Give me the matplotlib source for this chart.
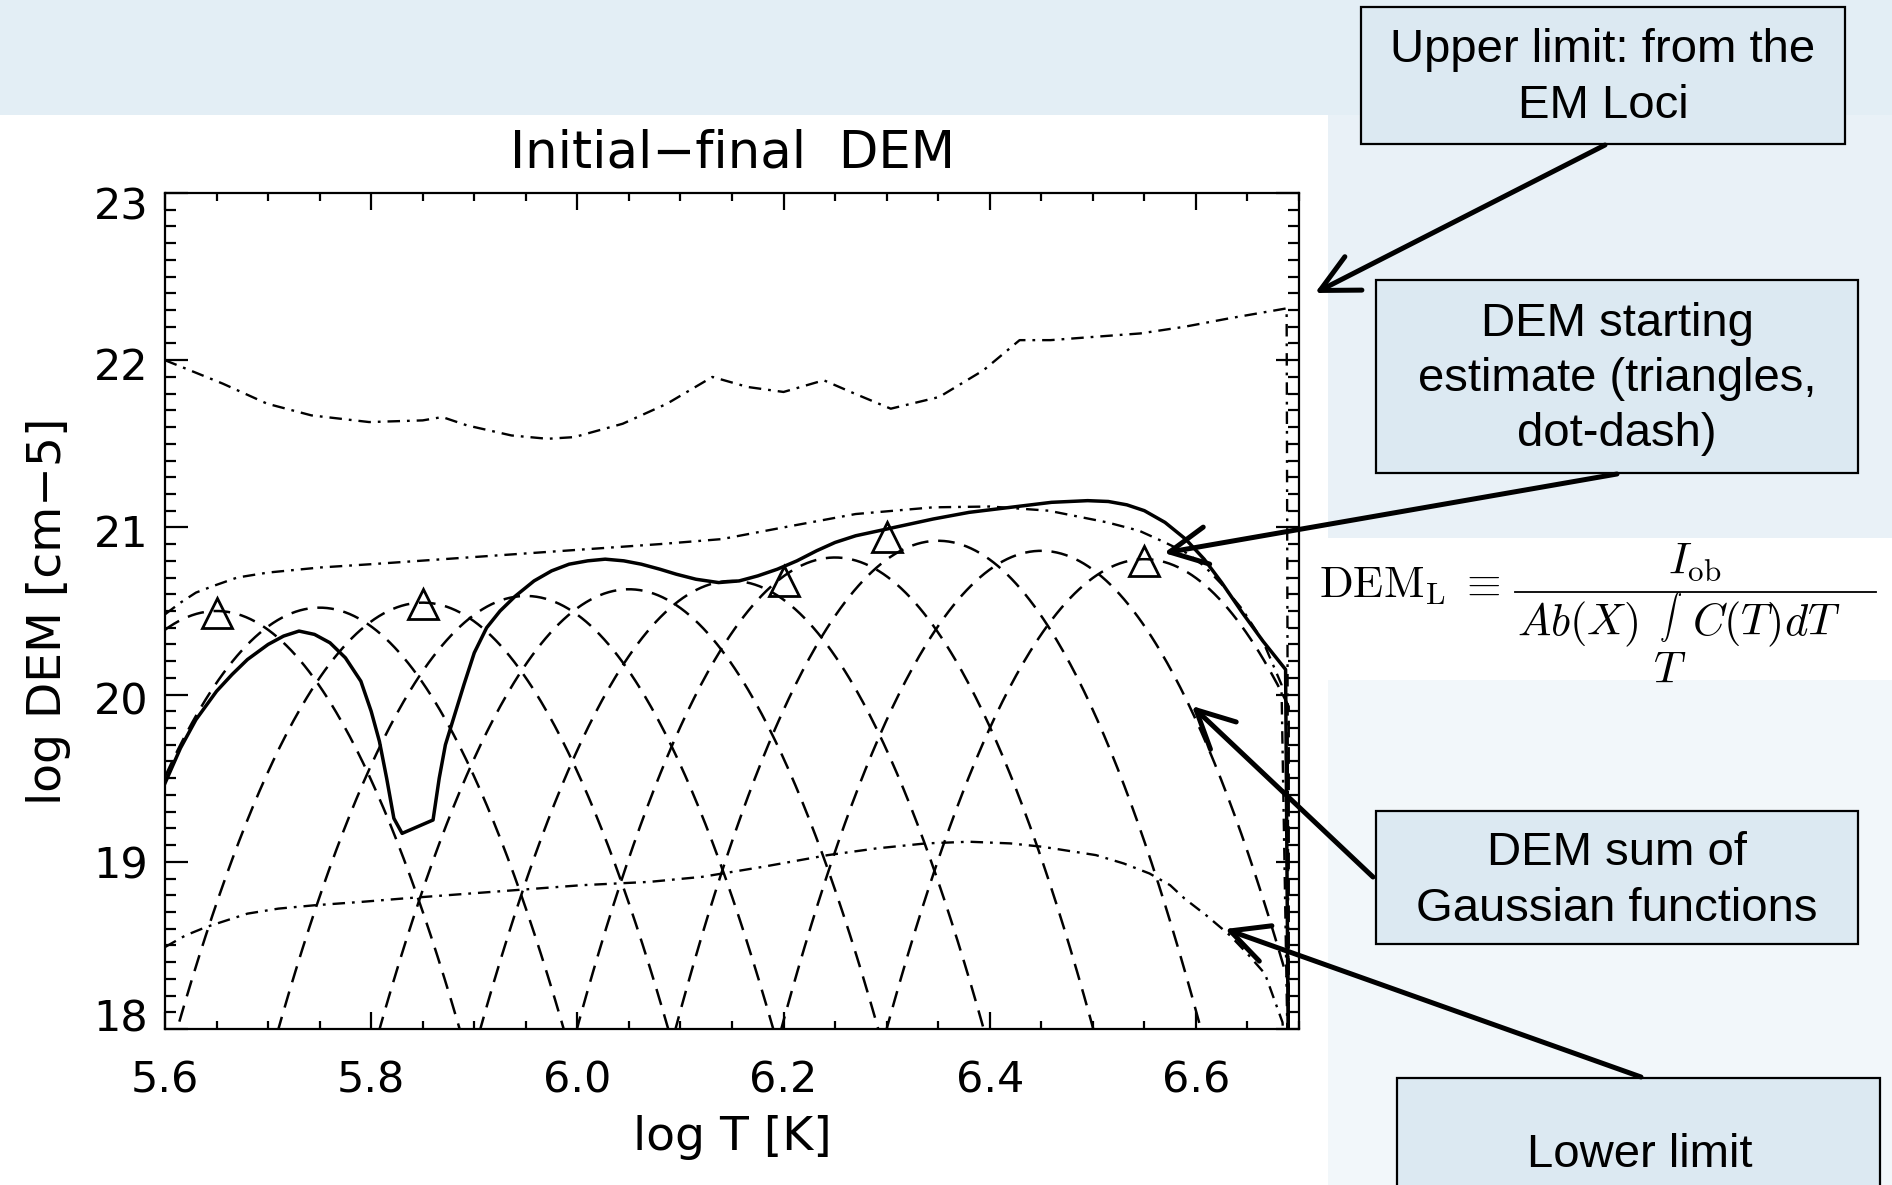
import numpy as np
import matplotlib
matplotlib.use('Agg')
import matplotlib.pyplot as plt
from matplotlib.patches import Rectangle, FancyArrowPatch
from matplotlib.lines import Line2D
from matplotlib.ticker import MultipleLocator
from matplotlib.transforms import ScaledTranslation

# ---------------- data ----------------
# final DEM (solid)
final_T = [5.600, 5.615, 5.630, 5.650, 5.665, 5.680, 5.700, 5.715, 5.730, 5.745,
           5.760, 5.775, 5.790, 5.800, 5.808, 5.815, 5.822, 5.830, 5.860, 5.866,
           5.872, 5.880, 5.890, 5.900, 5.912, 5.925, 5.940, 5.958, 5.975, 5.992,
           6.010, 6.027, 6.045, 6.062, 6.080, 6.096, 6.115, 6.137, 6.157, 6.175,
           6.194, 6.213, 6.232, 6.250, 6.270, 6.300, 6.345, 6.380, 6.420, 6.460,
           6.495, 6.515, 6.533, 6.550, 6.570, 6.590, 6.608, 6.625, 6.645, 6.665,
           6.687, 6.690]
final_D = [19.47, 19.68, 19.85, 20.02, 20.12, 20.21, 20.30, 20.35, 20.38, 20.36,
           20.31, 20.22, 20.08, 19.90, 19.72, 19.50, 19.26, 19.17, 19.25, 19.50,
           19.70, 19.86, 20.06, 20.25, 20.40, 20.50, 20.59, 20.68, 20.74, 20.78,
           20.80, 20.81, 20.80, 20.78, 20.75, 20.72, 20.69, 20.67, 20.68, 20.71,
           20.75, 20.80, 20.86, 20.91, 20.95, 20.99, 21.05, 21.09, 21.12, 21.15,
           21.16, 21.155, 21.135, 21.10, 21.03, 20.93, 20.81, 20.67, 20.49, 20.32,
           20.15, 17.5]

# starting estimate (dot-dash) and its triangles
start_T = [5.600, 5.615, 5.630, 5.647, 5.670, 5.700, 5.750, 5.800, 5.870, 5.940,
           6.010, 6.080, 6.140, 6.200, 6.270, 6.345, 6.400, 6.457, 6.514, 6.545,
           6.570, 6.590, 6.608, 6.625, 6.645, 6.665, 6.683, 6.690]
start_D = [20.48, 20.55, 20.61, 20.65, 20.70, 20.73, 20.76, 20.78, 20.81, 20.84,
           20.87, 20.90, 20.93, 21.00, 21.08, 21.12, 21.125, 21.10, 21.03, 20.98,
           20.91, 20.85, 20.77, 20.66, 20.51, 20.32, 20.06, 17.5]
tri_T = [5.65, 5.85, 6.20, 6.30, 6.55]
tri_D = [20.49, 20.54, 20.68, 20.94, 20.80]

# upper limit from EM loci (dot-dash)
upper_T = [5.600, 5.620, 5.656, 5.699, 5.742, 5.798, 5.850, 5.869, 5.893, 5.936,
           5.971, 5.997, 6.044, 6.087, 6.131, 6.165, 6.200, 6.239, 6.269, 6.304,
           6.351, 6.394, 6.429, 6.459, 6.502, 6.546, 6.589, 6.632, 6.688, 6.690]
upper_D = [22.00, 21.95, 21.86, 21.74, 21.67, 21.63, 21.64, 21.66, 21.61, 21.55,
           21.53, 21.54, 21.62, 21.74, 21.90, 21.84, 21.81, 21.88, 21.80, 21.71,
           21.78, 21.94, 22.12, 22.12, 22.14, 22.16, 22.20, 22.25, 22.31, 17.5]

# lower limit (dot-dash)
lower_T = [5.600, 5.620, 5.640, 5.660, 5.680, 5.710, 5.745, 5.790, 5.830, 5.917,
           6.004, 6.070, 6.121, 6.180, 6.243, 6.290, 6.338, 6.380, 6.420, 6.451,
           6.503, 6.530, 6.555, 6.575, 6.589, 6.610, 6.633, 6.650, 6.667, 6.684,
           6.690]
lower_D = [18.49, 18.56, 18.61, 18.65, 18.69, 18.72, 18.74, 18.76, 18.78, 18.82,
           18.86, 18.88, 18.91, 18.97, 19.04, 19.08, 19.11, 19.12, 19.11, 19.09,
           19.04, 18.99, 18.93, 18.86, 18.78, 18.68, 18.56, 18.45, 18.33, 18.04,
           17.5]

# Gaussian components (dashed): centre, peak log DEM, width (sigma in log T)
gauss_center = [5.65, 5.75, 5.85, 5.95, 6.05, 6.15, 6.25, 6.35, 6.45, 6.55]
gauss_peak = [20.50, 20.52, 20.55, 20.59, 20.63, 20.68, 20.82, 20.92, 20.86, 20.81]
gauss_sigma = [0.0695] * 10
T_end = 6.69

x_ticks = [5.6, 5.8, 6.0, 6.2, 6.4, 6.6]
y_ticks = [18, 19, 20, 21, 22, 23]

# ---------------- figure ----------------
W, H = 1892, 1185
plt.rcParams['lines.scale_dashes'] = False
plt.rcParams['mathtext.fontset'] = 'cm'
fig = plt.figure(figsize=(W / 100, H / 100), dpi=100)
fig.patch.set_facecolor('#E3EEF5')


def fx(x):
    return x / W


def fy(y):
    return 1 - y / H


def rect_px(x0, y0, x1, y1, **kw):
    r = Rectangle((x0 / W, 1 - y1 / H), (x1 - x0) / W, (y1 - y0) / H,
                  transform=fig.transFigure, **kw)
    fig.add_artist(r)
    return r


rect_px(0, 115, 1328, 1185, facecolor='white', edgecolor='none', zorder=0)
rect_px(1328, 115, 1892, 538, facecolor='#E9F1F7', edgecolor='none', zorder=0)
rect_px(1328, 538, 1892, 680, facecolor='white', edgecolor='none', zorder=0)
rect_px(1328, 680, 1892, 1185, facecolor='#F2F7FA', edgecolor='none', zorder=0)

ax = fig.add_axes([165 / W, (H - 1029) / H, (1299 - 165) / W, (1029 - 193) / H])
ax.set_facecolor('white')
ax.set_xlim(5.6, 6.7)
ax.set_ylim(18, 23)

font = 'DejaVu Sans'
dash = (0, (12, 7))
dashdot = (0, (9, 5, 2, 5))

Tg = np.linspace(5.6, T_end, 500)
for c, p, s in zip(gauss_center, gauss_peak, gauss_sigma):
    dem = 10 ** p * np.exp(-(Tg - c) ** 2 / (2 * s ** 2))
    logd = np.log10(dem)
    Tp = np.append(Tg, T_end)
    lp = np.append(logd, 17.0)
    ax.plot(Tp, lp, color='black', lw=1.8, linestyle=dash)

ax.plot(upper_T, upper_D, color='black', lw=1.7, linestyle=dashdot)
ax.plot(lower_T, lower_D, color='black', lw=1.7, linestyle=dashdot)
ax.plot(start_T, start_D, color='black', lw=1.7, linestyle=dashdot)
ax.plot(final_T, final_D, color='black', lw=2.5, solid_joinstyle='round')
ax.plot(tri_T, tri_D, linestyle='none', marker='^', ms=21, mfc='none',
        mec='black', mew=2.0)

ax.xaxis.set_major_locator(plt.FixedLocator(x_ticks))
ax.xaxis.set_minor_locator(MultipleLocator(0.05))
ax.yaxis.set_major_locator(plt.FixedLocator(y_ticks))
ax.yaxis.set_minor_locator(MultipleLocator(0.1))
ax.set_xticklabels(['%.1f' % v for v in x_ticks])
ax.set_yticklabels(['%d' % v for v in y_ticks])
ax.tick_params(which='both', direction='in', top=True, right=True, width=1.6,
               colors='black', labelsize=31)
ax.xaxis.set_tick_params(which='major', length=12, pad=22)
ax.xaxis.set_tick_params(which='minor', length=6)
ax.yaxis.set_tick_params(which='major', length=16.5, pad=12)
ax.yaxis.set_tick_params(which='minor', length=8)
for lab in ax.get_xticklabels() + ax.get_yticklabels():
    lab.set_fontfamily(font)
ylabs = ax.get_yticklabels()
for lab, dy in zip(ylabs, [14, 0, -3, -3, -3, -10]):
    lab.set_transform(lab.get_transform() +
                      ScaledTranslation(0, dy / 100.0, fig.dpi_scale_trans))
for sp in ax.spines.values():
    sp.set_linewidth(1.6)

ax.set_title('Initial\u2212final  DEM', fontsize=37, family=font, pad=18)
ax.set_xlabel('log T [K]', fontsize=34, family=font, labelpad=10)
ax.set_ylabel('log DEM [cm\u22125]', fontsize=34, family=font, labelpad=16)

# ---------------- annotation boxes ----------------
box_fc = '#DCE9F2'
tfont = 'Liberation Sans'
boxes = [
    ((1361, 7, 1845, 144), (1603, 78), 'Upper limit: from the\nEM Loci'),
    ((1376, 280, 1858, 473), (1617, 379), 'DEM starting\nestimate (triangles,\ndot-dash)'),
    ((1376, 811, 1858, 944), (1617, 881), 'DEM sum of\nGaussian functions'),
    ((1397, 1078, 1880, 1240), (1640, 1155), 'Lower limit'),
]
for (x0, y0, x1, y1), (tx, ty), txt in boxes:
    rect_px(x0, y0, x1, y1, facecolor=box_fc, edgecolor='black', lw=1.6, zorder=3)
    fig.text(fx(tx), fy(ty), txt, ha='center', va='center', fontsize=34,
             family=tfont, linespacing=1.33, zorder=4)

arrows = [
    ((1605, 145), (1315, 293)),
    ((1617, 474), (1164, 553)),
    ((1373, 877), (1192, 706)),
    ((1641, 1077), (1225, 929)),
]
for (xa, ya), (xb, yb) in arrows:
    arr = FancyArrowPatch((fx(xa), fy(ya)), (fx(xb), fy(yb)),
                          transform=fig.transFigure,
                          arrowstyle='->,head_length=0.9,head_width=0.45',
                          mutation_scale=30, lw=3.6, color='black',
                          shrinkA=0, shrinkB=0, zorder=5)
    fig.add_artist(arr)

# ---------------- equation ----------------
eq_fs = 32
fig.text(fx(1319), fy(597), r'$\mathrm{DEM}_\mathrm{L}\;\equiv$', ha='left',
         va='baseline', fontsize=eq_fs, zorder=4)
fig.add_artist(Line2D([fx(1515), fx(1876)], [fy(592), fy(592)],
                      transform=fig.transFigure, color='black', lw=1.3, zorder=4))
fig.text(fx(1695), fy(573), r'$I_\mathrm{ob}$', ha='center', va='baseline',
         fontsize=eq_fs, zorder=4)
fig.text(fx(1517), fy(635), r'$Ab(X)$', ha='left', va='baseline',
         fontsize=eq_fs, zorder=4)
fig.text(fx(1670), fy(644), r'$\int$', ha='center', va='bottom',
         fontsize=16, zorder=4)
fig.text(fx(1670), fy(649), r'$T$', ha='center', va='top',
         fontsize=eq_fs, zorder=4)
fig.text(fx(1692), fy(635), r'$C(T)dT$', ha='left', va='baseline',
         fontsize=eq_fs, zorder=4)

fig.savefig('out.png', dpi=100, facecolor=fig.get_facecolor())
